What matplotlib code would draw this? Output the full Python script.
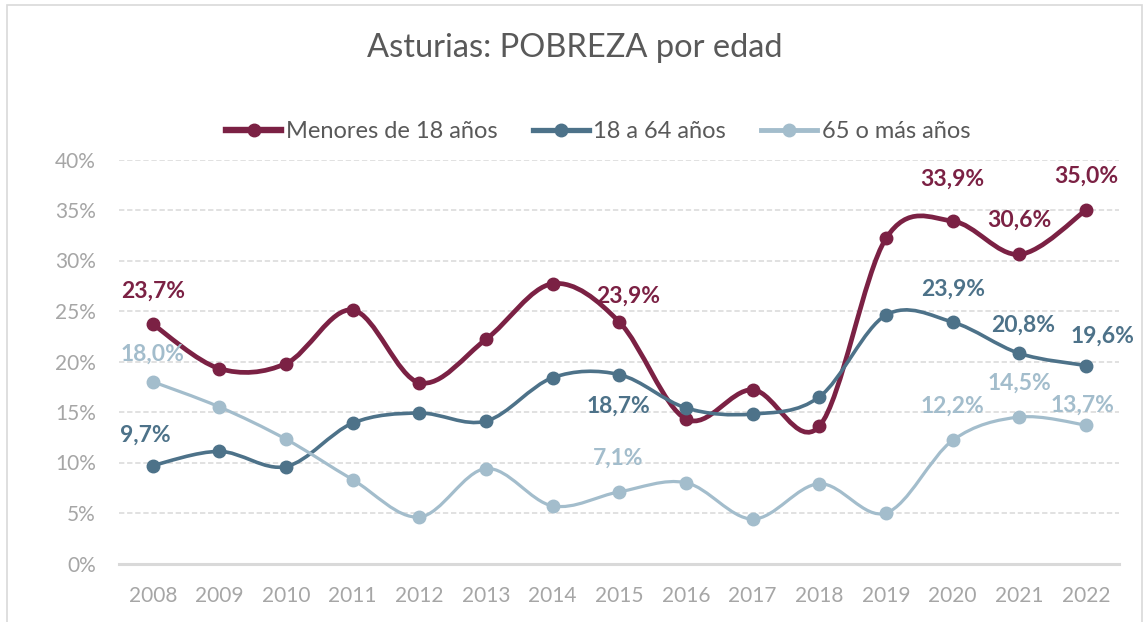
import matplotlib
matplotlib.use("Agg")
import matplotlib.pyplot as plt
from matplotlib.path import Path
from matplotlib.patches import PathPatch, Rectangle
from matplotlib.lines import Line2D
import numpy as np

years = ["2008", "2009", "2010", "2011", "2012", "2013", "2014", "2015",
         "2016", "2017", "2018", "2019", "2020", "2021", "2022"]
menores = [23.7, 19.3, 19.8, 25.1, 17.9, 22.2, 27.7, 23.9, 14.3, 17.2, 13.6, 32.2, 33.9, 30.6, 35.0]
adultos = [9.7, 11.1, 9.6, 13.9, 14.9, 14.1, 18.4, 18.7, 15.4, 14.8, 16.5, 24.6, 23.9, 20.8, 19.6]
mayores = [18.0, 15.5, 12.3, 8.3, 4.6, 9.4, 5.7, 7.1, 8.0, 4.4, 7.9, 5.0, 12.2, 14.5, 13.7]
series_names = ["Menores de 18 años", "18 a 64 años", "65 o más años"]
yticks = [0, 5, 10, 15, 20, 25, 30, 35, 40]

colors = ["#7B2144", "#4D7289", "#A3BDCC"]
lws = [3.4, 2.6, 2.3]
labelled = [0, 7, 12, 13, 14]
# label offsets in pixels (dx, dy upwards) per series, per labelled index
offsets = [
    {0: (0, 33), 7: (9, 26), 12: (0, 42), 13: (0, 34), 14: (0, 34)},
    {0: (-7, 30), 7: (-1, -32), 12: (0, 33), 13: (4, 28), 14: (16, 29)},
    {0: (0, 27), 7: (-1, 34), 12: (0, 34), 13: (0, 34), 14: (-4, 20)},
]

plt.rcParams['font.family'] = ['Lato', 'DejaVu Sans']
W, H = 1144, 622
fig = plt.figure(figsize=(W / 100, H / 100), dpi=100)
ax = fig.add_axes([119.4 / W, (H - 563.5) / H, 1000 / W, (563.5 - 159.5) / H])

def smooth_path(xs, ys):
    pts = np.column_stack([xs, ys]).astype(float)
    n = len(pts)
    verts = [pts[0]]
    codes = [Path.MOVETO]
    for i in range(n - 1):
        p0 = pts[i - 1] if i > 0 else pts[i]
        p1 = pts[i]
        p2 = pts[i + 1]
        p3 = pts[i + 2] if i + 2 < n else pts[i + 1]
        c1 = p1 + (p2 - p0) / 6.0
        c2 = p2 - (p3 - p1) / 6.0
        verts += [c1, c2, p2]
        codes += [Path.CURVE4] * 3
    return Path(verts, codes)

x = np.arange(len(years))
for s, vals in enumerate([menores, adultos, mayores]):
    patch = PathPatch(smooth_path(x, vals), facecolor='none', edgecolor=colors[s],
                      lw=lws[s], capstyle='round', joinstyle='round', zorder=3)
    ax.add_patch(patch)
    ax.plot(x, vals, 'o', color=colors[s], markersize=9, zorder=4)
    for i in labelled:
        dx, dy = offsets[s][i]
        ax.annotate(f"{vals[i]:.1f}%".replace('.', ','), (x[i], vals[i]),
                    xytext=(dx * 0.72, dy * 0.72), textcoords='offset points',
                    ha='center', va='center', fontsize=16.5, fontweight='bold',
                    color=colors[s], zorder=5)

ax.set_xlim(-0.5, len(years) - 0.5)
ax.set_ylim(0, 40)
ax.set_yticks(yticks)
ax.set_yticklabels([f"{t}%" for t in yticks])
ax.set_xticks(x)
ax.set_xticklabels(years)
ax.tick_params(length=0, labelsize=15, labelcolor='#A6A6A6')
ax.tick_params(axis='y', pad=17)
ax.tick_params(axis='x', pad=16)
for sp in ['top', 'right', 'left']:
    ax.spines[sp].set_visible(False)
ax.spines['bottom'].set_color('#D9D9D9')
ax.spines['bottom'].set_linewidth(2.2)
ax.spines['bottom'].set_zorder(2)
for t in yticks[1:]:
    ax.axhline(t, color='#D9D9D9', lw=1.1, linestyle=(0, (3.5, 1.8)), zorder=1)

fig.text(575 / W, 1 - 48 / H, "Asturias: POBREZA por edad", ha='center', va='center',
         fontsize=23.5, color='#595959')

handles = [Line2D([0], [0], color=colors[s], lw=lws[s] + 1.2, marker='o', markersize=9)
           for s in range(3)]
fig.legend(handles, series_names, loc='center', bbox_to_anchor=(598 / W, 1 - 132 / H),
           ncol=3, frameon=False, fontsize=17, labelcolor='#595959',
           handlelength=2.35, handletextpad=0.2, columnspacing=1.5)

fig.patches.append(Rectangle((6.5 / W, -0.01), (1141.5 - 6.5) / W, 1 - 4.5 / H + 0.01,
                             transform=fig.transFigure, fill=False,
                             edgecolor='#D9D9D9', lw=1.2))

fig.savefig("out.png", dpi=100, facecolor='white')
